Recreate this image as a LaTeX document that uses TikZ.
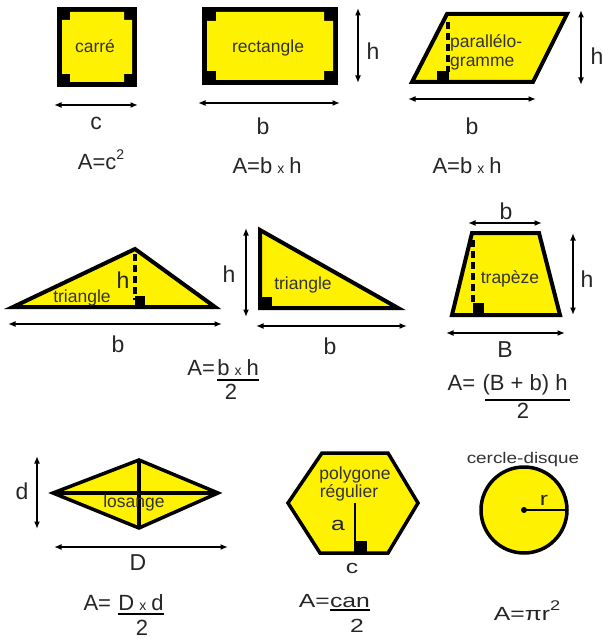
\documentclass[tikz,border=0pt]{standalone}
\usepackage{fontspec}
\setmainfont{Liberation Sans}
\usepackage{graphicx}
\usetikzlibrary{arrows.meta}
\newcommand\supr[1]{\raisebox{10pt}{\fontsize{14}{14}\selectfont #1}}
\newcommand\smx{\hspace{5pt}{\fontsize{14}{14}\selectfont x}\hspace{5pt}}
\newcommand\wide[1]{\scalebox{1.3}[1]{#1}}
\begin{document}
\begin{tikzpicture}[x=1pt,y=-1pt,
 shp/.style={draw=black,fill=yellow,line width=4pt,line join=miter},
 dim/.style={{Latex[length=7.5pt,width=6pt]}-{Latex[length=7.5pt,width=6pt]},line width=2.1pt},
 hdash/.style={line width=3.5pt,dash pattern=on 7pt off 4pt},
 rmark/.style={fill=black},
 intxt/.style={inner sep=0pt,anchor=base,text=black!80,font=\fontsize{17.5}{19}\selectfont},
 lbl/.style={inner sep=0pt,anchor=base,text=black!85,font=\fontsize{23}{24}\selectfont},
 fml/.style={inner sep=0pt,anchor=base,text=black!85,font=\fontsize{22}{24}\selectfont},
 fmlw/.style={inner sep=0pt,anchor=base,text=black!85,font=\fontsize{19}{21}\selectfont},
 fbar/.style={line width=2.6pt},
]
\useasboundingbox[fill=white] (0,0) rectangle (602,639);

% ---------- carré ----------
\fill[black] (57,7) rectangle (137,87);
\fill[yellow] (70,12) -- (124,12) -- (124,20) -- (132,20) -- (132,74) -- (124,74) -- (124,82) -- (70,82) -- (70,74) -- (62,74) -- (62,20) -- (70,20) -- cycle;
\node[intxt] (carre) at (95,53) {carré};
\coordinate (sqL) at (54,105); \coordinate (sqR) at (138,105);
\draw[dim] (sqL) -- (sqR);
\node[lbl] (lc) at (96,130) {c};
\node[fml] (fsq) at (101,170) {A=c\supr{2}};

% ---------- rectangle ----------
\fill[black] (202,7) rectangle (338,85);
\fill[yellow] (216,12) -- (324,12) -- (324,21) -- (333,21) -- (333,71) -- (324,71) -- (324,80) -- (216,80) -- (216,71) -- (207,71) -- (207,21) -- (216,21) -- cycle;
\node[intxt] (rect) at (268,53) {rectangle};
\coordinate (rbL) at (198,103); \coordinate (rbR) at (340,103);
\draw[dim] (rbL) -- (rbR);
\coordinate (rhT) at (358,8); \coordinate (rhB) at (358,83);
\draw[dim] (rhT) -- (rhB);
\node[lbl] (lrb) at (263,135) {b};
\node[lbl] (lrh) at (373,60) {h};
\node[fml] (frect) at (267,173) {A=b\smx h};

% ---------- parallélogramme ----------
\draw[shp] (447,14) -- (567,14) -- (533,82) -- (412,82) -- cycle;
\draw[hdash] (448,22) -- (448,72);
\fill[rmark] (437,71) rectangle (449,81);
\node[intxt,anchor=west,align=left,font=\fontsize{17.5}{19}\selectfont] (para) at (450,52) {parallélo-\\gramme};
\coordinate (pbL) at (408,99); \coordinate (pbR) at (536,99);
\draw[dim] (pbL) -- (pbR);
\coordinate (phT) at (581,10); \coordinate (phB) at (581,85);
\draw[dim] (phT) -- (phB);
\node[lbl] (lpb) at (472,135) {b};
\node[lbl] (lph) at (597,65) {h};
\node[fml] (fpara) at (467,173) {A=b\smx h};

% ---------- triangle 1 ----------
\draw[shp] (13,307) -- (135,249) -- (215,307) -- cycle;
\draw[hdash] (135,254) -- (135,300);
\fill[rmark] (135,296) rectangle (145,305);
\node[intxt] (tri1) at (82,302) {triangle};
\node[lbl] (lt1h) at (123,288) {h};
\coordinate (t1bL) at (8,324); \coordinate (t1bR) at (222,324);
\draw[dim] (t1bL) -- (t1bR);
\node[lbl] (lt1b) at (118,352) {b};

% ---------- triangle 2 ----------
\draw[shp] (260,230) -- (260,308) -- (398,308) -- cycle;
\fill[rmark] (260,297) rectangle (272,308);
\node[intxt] (tri2) at (303,289) {triangle};
\coordinate (t2hT) at (246,228); \coordinate (t2hB) at (246,317);
\draw[dim] (t2hT) -- (t2hB);
\node[lbl] (lt2h) at (229,282) {h};
\coordinate (t2bL) at (256,326); \coordinate (t2bR) at (407,326);
\draw[dim] (t2bL) -- (t2bR);
\node[lbl] (lt2b) at (330,354) {b};

% triangle formula
\node[fml] (ftn) at (238,375) {b\smx h};
\node[fml,anchor=base east] (ftA) at ([xshift=-2pt]ftn.base west) {A=};
\draw[fbar] ([yshift=-5pt]ftn.base west) -- ([yshift=-5pt]ftn.base east);
\node[fml] (ft2) at (231,399) {2};

% ---------- trapèze ----------
\draw[shp] (472,233) -- (539,233) -- (560,315) -- (452,315) -- cycle;
\draw[hdash] (473,240) -- (473,304);
\fill[rmark] (473,303) rectangle (484,313);
\node[intxt] (trap) at (510,283) {trapèze};
\coordinate (zbL) at (468,223); \coordinate (zbR) at (542,223);
\draw[dim] (zbL) -- (zbR);
\node[lbl] (lzb) at (506,219) {b};
\coordinate (zhT) at (573,233); \coordinate (zhB) at (573,315);
\draw[dim] (zhT) -- (zhB);
\node[lbl] (lzh) at (587,287) {h};
\coordinate (zBL) at (446,333); \coordinate (zBR) at (565,333);
\draw[dim] (zBL) -- (zBR);
\node[lbl] (lzB) at (505,357) {B};
\node[fml] (fzn) at (525,390) {(B + b) h};
\node[fml,anchor=base east] (fzA) at ([xshift=-7pt]fzn.base west) {A=};
\draw[fbar] ([xshift=3pt,yshift=-10pt]fzn.base west) -- ([xshift=2pt,yshift=-10pt]fzn.base east);
\node[fml] (fz2) at (523,418) {2};

% ---------- losange ----------
\draw[shp,line width=3.5pt] (53,493) -- (139,460) -- (218,493) -- (139,528) -- cycle;
\draw[line width=3.5pt] (53,493) -- (218,493);
\draw[line width=3.5pt] (139,460) -- (139,528);
\node[intxt] (los) at (134,507) {losange};
\coordinate (ldT) at (37,456); \coordinate (ldB) at (37,529);
\draw[dim] (ldT) -- (ldB);
\node[lbl] (lld) at (22,499) {d};
\coordinate (lDL) at (54,547); \coordinate (lDR) at (228,547);
\draw[dim] (lDL) -- (lDR);
\node[lbl] (llD) at (138,570) {D};
\node[fml] (fln) at (141,610) {D\smx d};
\node[fml,anchor=base east] (flA) at ([xshift=-7pt]fln.base west) {A=};
\draw[fbar] ([yshift=-4pt]fln.base west) -- ([yshift=-4pt]fln.base east);
\node[fml] (fl2) at (142,635) {2};

% ---------- polygone régulier ----------
\draw[shp,line width=3.5pt] (322,453) -- (388,453) -- (418,503) -- (388,553) -- (320,553) -- (288,503) -- cycle;
\draw[line width=2.5pt] (355,503) -- (355,552);
\fill[rmark] (356,541) rectangle (367,552);
\node[intxt] (poly1) at (355,479) {polygone};
\node[intxt] (poly2) at (349,497) {régulier};
\node[fmlw] (lha) at (338,530) {\wide{a}};
\node[fmlw] (lhc) at (352,573) {\wide{c}};
\node[fmlw] (fhn) at (350,607) {\wide{can}};
\node[fmlw,anchor=base east] (fhA) at (fhn.base west) {\wide{A=}};
\draw[fbar] ([yshift=-3pt]fhn.base west) -- ([yshift=-3pt]fhn.base east);
\node[fmlw] (fh2) at (357,632) {\wide{2}};

% ---------- cercle ----------
\draw[shp,line width=3.5pt] (524,510) circle[radius=43];
\coordinate (cc) at (524,510); \coordinate (cr) at (567,510);
\draw[line width=2.5pt] (cc) -- (cr);
\fill (cc) circle[radius=3];
\node[inner sep=0pt,anchor=base,text=black!80] (cdq) at (523,463) {\scalebox{1.22}[1]{\fontsize{15.5}{16}\selectfont cercle-disque}};
\node[fmlw] (lcr) at (544,505) {\wide{r}};
\node[fmlw] (fc) at (527,620) {\wide{A=πr\supr{2}}};
\end{tikzpicture}
\end{document}
